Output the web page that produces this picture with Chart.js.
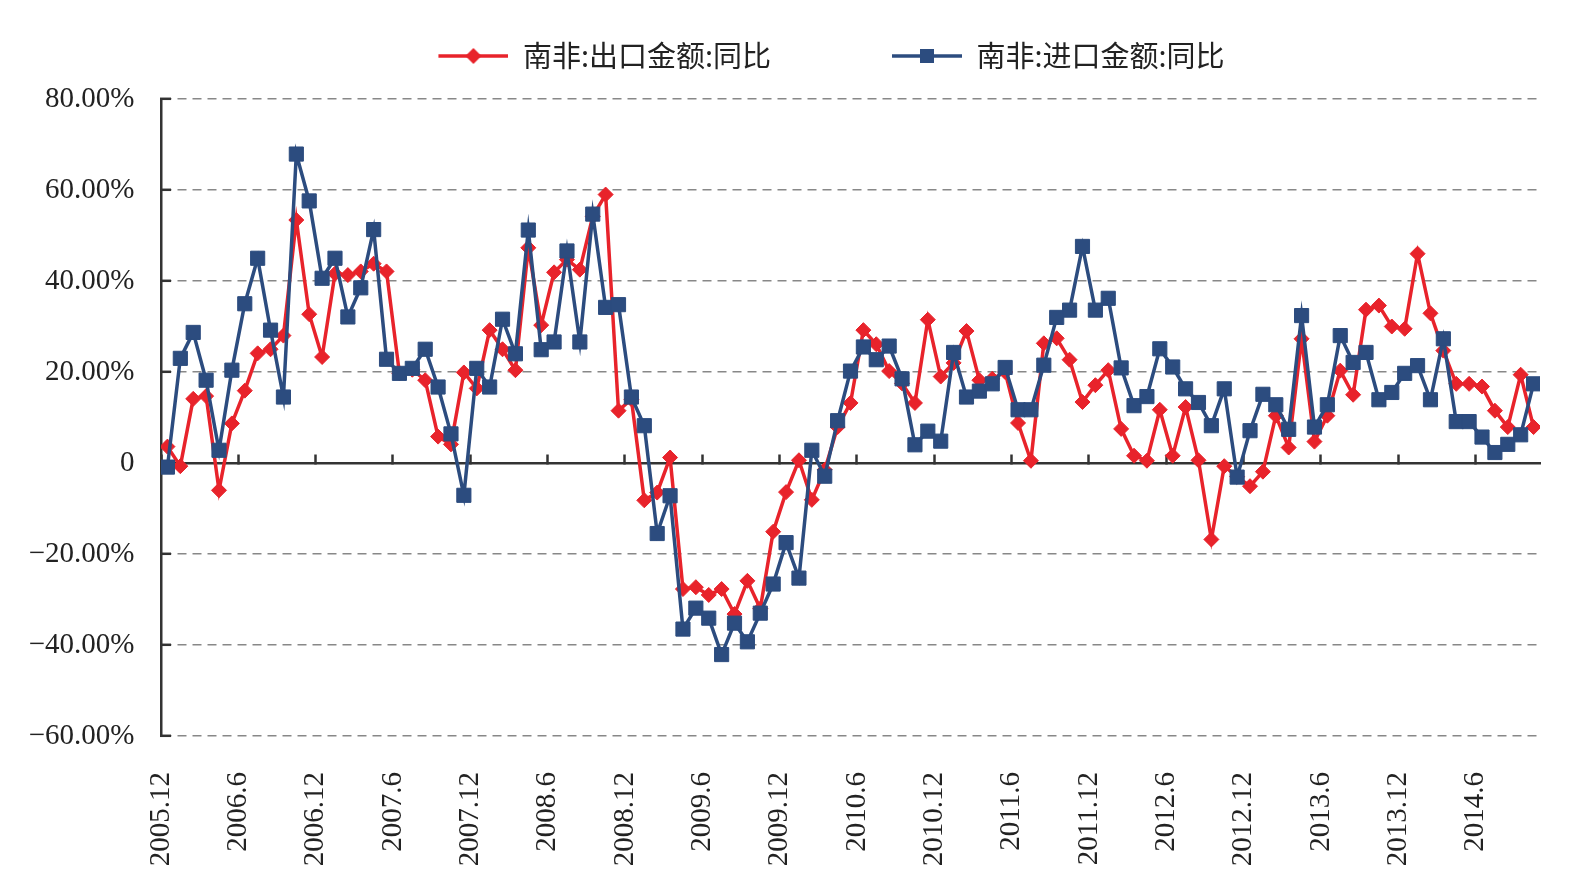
<!DOCTYPE html>
<html>
<head>
<meta charset="utf-8">
<script src="https://cdn.jsdelivr.net/npm/chart.js@4.4.1/dist/chart.umd.min.js"></script>
<style>
  html, body { margin: 0; padding: 0; background: #ffffff; }
  #wrap { width: 1586px; height: 890px; }
</style>
</head>
<body>
<div id="wrap"><canvas id="c" width="1586" height="890"></canvas></div>
<script>
// ---------------- data ----------------
const seriesNames = ['南非:出口金额:同比', '南非:进口金额:同比'];

const xTickLabels = ['2005.12', '2006.6', '2006.12', '2007.6', '2007.12', '2008.6',
  '2008.12', '2009.6', '2009.12', '2010.6', '2010.12', '2011.6', '2011.12',
  '2012.6', '2012.12', '2013.6', '2013.12', '2014.6'];

const yTickLabels = ['−60.00%', '−40.00%', '−20.00%', '0', '20.00%', '40.00%', '60.00%', '80.00%'];

// export YoY (%), monthly 2005.12 – 2014.10
const exportYoY = [
  3.6, -0.7, 14.1, 14.7, -6.0, 8.7, 15.9, 24.1, 25.0, 28.0,
  53.4, 32.7, 23.3, 41.6, 41.3, 42.1, 43.8, 42.1, 19.7, 20.5,
  18.2, 5.8, 4.1, 19.9, 16.4, 29.2, 25.0, 20.4, 47.3, 30.3,
  41.9, 44.7, 42.5, 54.2, 59.0, 11.5, 14.0, -8.2, -6.5, 1.2,
  -27.7, -27.3, -29.0, -27.7, -33.2, -25.9, -32.0, -15.1, -6.4, 0.6,
  -8.1, -1.5, 7.9, 13.2, 29.2, 26.1, 20.2, 17.5, 13.2, 31.5,
  19.0, 22.0, 29.0, 18.2, 18.5, 20.0, 8.8, 0.5, 26.3, 27.4,
  22.7, 13.4, 17.1, 20.4, 7.5, 1.6, 0.5, 11.7, 1.6, 12.3,
  0.6, -16.8, -0.7, -3.0, -5.1, -1.9, 10.4, 3.4, 27.3, 4.7,
  10.4, 20.3, 15.0, 33.7, 34.6, 30.0, 29.5, 46.0, 32.9, 24.7,
  17.4, 17.4, 16.8, 11.5, 7.9, 19.4, 7.9
];

// import YoY (%), monthly 2005.12 – 2014.10
const importYoY = [
  -0.9, 23.0, 28.7, 18.2, 2.8, 20.4, 35.0, 45.0, 29.2, 14.5,
  67.9, 57.6, 40.6, 45.0, 32.1, 38.5, 51.3, 22.8, 19.7, 20.8,
  25.0, 16.7, 6.4, -7.1, 20.8, 16.7, 31.6, 24.0, 51.2, 24.9,
  26.6, 46.6, 26.6, 54.7, 34.2, 34.8, 14.5, 8.2, -15.5, -7.2,
  -36.5, -31.9, -34.1, -42.1, -35.2, -39.3, -33.0, -26.6, -17.5, -25.3,
  2.8, -2.9, 9.3, 20.2, 25.5, 22.7, 25.7, 18.5, 4.0, 7.0,
  4.8, 24.3, 14.5, 15.8, 17.4, 21.0, 11.7, 11.7, 21.5, 32.0,
  33.6, 47.6, 33.6, 36.2, 20.9, 12.6, 14.6, 25.1, 21.1, 16.3,
  13.3, 8.2, 16.3, -3.1, 7.1, 15.1, 12.8, 7.4, 32.4, 7.9,
  12.8, 28.0, 22.1, 24.3, 13.9, 15.5, 19.7, 21.4, 13.9, 27.3,
  9.1, 9.1, 5.7, 2.3, 4.1, 6.2, 17.4
];

// month categories
const months = [];
(function () {
  let y = 2005, m = 12;
  for (let i = 0; i < exportYoY.length; i++) {
    months.push(y + '.' + m);
    m++; if (m > 12) { m = 1; y++; }
  }
})();

// ---------------- styles ----------------
const RED = '#E8232B';
const BLUE = '#2C4C7F';
const serif = "'Liberation Serif', 'DejaVu Serif', serif";
const cjk = "'Noto Sans CJK SC', 'Noto Sans', sans-serif";

function legendGlyph(color, shape) {
  const c = document.createElement('canvas');
  c.width = 181; c.height = 24;
  const g = c.getContext('2d');
  g.strokeStyle = color; g.lineWidth = 3.5;
  g.beginPath(); g.moveTo(111, 12); g.lineTo(181, 12); g.stroke();
  g.fillStyle = color;
  if (shape === 'diamond') {
    g.beginPath(); g.moveTo(146, 4); g.lineTo(154, 12); g.lineTo(146, 20); g.lineTo(138, 12); g.closePath(); g.fill();
  } else {
    g.fillRect(139, 5, 14, 14);
  }
  return c;
}
const glyphs = [legendGlyph(RED, 'diamond'), legendGlyph(BLUE, 'square')];

const toPoints = arr => arr.map((v, i) => ({ x: i + 0.5, y: v }));

// keep the legend row in its own band above the plot
const legendBand = {
  id: 'legendBand',
  afterLayout(chart) {
    const l = chart.legend;
    if (!l) return;
    const h = l.height;
    l.top = 31.5;
    l.bottom = l.top + h;
  }
};

new Chart(document.getElementById('c'), {
  type: 'line',
  data: {
    labels: months,
    datasets: [
      {
        label: seriesNames[0],
        data: toPoints(exportYoY),
        xAxisID: 'x', yAxisID: 'y',
        borderColor: RED, backgroundColor: RED,
        borderWidth: 3.5, tension: 0,
        pointStyle: 'rectRot', pointRadius: 7.5, pointBorderWidth: 1,
        pointBackgroundColor: RED, pointBorderColor: RED,
        order: 2
      },
      {
        label: seriesNames[1],
        data: toPoints(importYoY),
        xAxisID: 'x', yAxisID: 'y',
        borderColor: BLUE, backgroundColor: BLUE,
        borderWidth: 3.5, tension: 0,
        pointStyle: 'rect', pointRadius: 10, pointBorderWidth: 1,
        pointBackgroundColor: BLUE, pointBorderColor: BLUE,
        order: 1
      }
    ]
  },
  plugins: [legendBand],
  options: {
    responsive: false,
    animation: false,
    devicePixelRatio: 1,
    layout: { padding: { top: 32, right: 34, bottom: 0, left: 0 } },
    plugins: {
      tooltip: { enabled: false },
      legend: {
        position: 'top',
        align: 'center',
        labels: {
          usePointStyle: true,
          pointStyleWidth: 181,
          padding: 10,
          color: '#222',
          font: { family: cjk, size: 29 },
          sort: (a, b) => a.datasetIndex - b.datasetIndex,
          generateLabels(chart) {
            const items = Chart.defaults.plugins.legend.labels.generateLabels(chart);
            items.forEach(it => { it.pointStyle = glyphs[it.datasetIndex]; });
            return items;
          }
        }
      }
    },
    scales: {
      x: {
        type: 'linear', axis: 'x', position: 'bottom',
        min: 0, max: exportYoY.length,
        ticks: {
          stepSize: 6, includeBounds: false, autoSkip: false,
          minRotation: 90, maxRotation: 90, padding: 36,
          color: '#222', font: { family: serif, size: 29 },
          callback: v => (v % 6 === 0 && xTickLabels[v / 6] !== undefined) ? xTickLabels[v / 6] : ''
        },
        grid: { display: false, drawTicks: false },
        border: { display: false },
        afterFit(s) { s.height = 154; s.paddingRight = 46; }
      },
      x2: {
        type: 'linear', axis: 'x', position: { y: 0 },
        min: 0, max: exportYoY.length,
        ticks: { display: false, stepSize: 6, includeBounds: false },
        grid: { drawOnChartArea: false, drawTicks: true, tickLength: -10, tickColor: '#333', tickWidth: 2.5 },
        border: { display: true, color: '#333', width: 2.5 }
      },
      y: {
        type: 'linear', position: 'left',
        min: -60, max: 80,
        ticks: {
          stepSize: 20, padding: 36.5,
          color: '#222', font: { family: serif, size: 29 },
          callback: v => yTickLabels[Math.round((v + 60) / 20)]
        },
        grid: {
          color: ctx => (ctx.tick && ctx.tick.value === 0) ? 'rgba(0,0,0,0)' : '#888888',
          lineWidth: 1.6,
          tickLength: -10, tickColor: '#333', tickWidth: 2.5
        },
        border: { display: true, color: '#333', width: 2.5, dash: [9, 6] },
        afterFit(s) { s.width = 161; s.paddingTop = 99; }
      }
    }
  }
});
</script>
</body>
</html>
